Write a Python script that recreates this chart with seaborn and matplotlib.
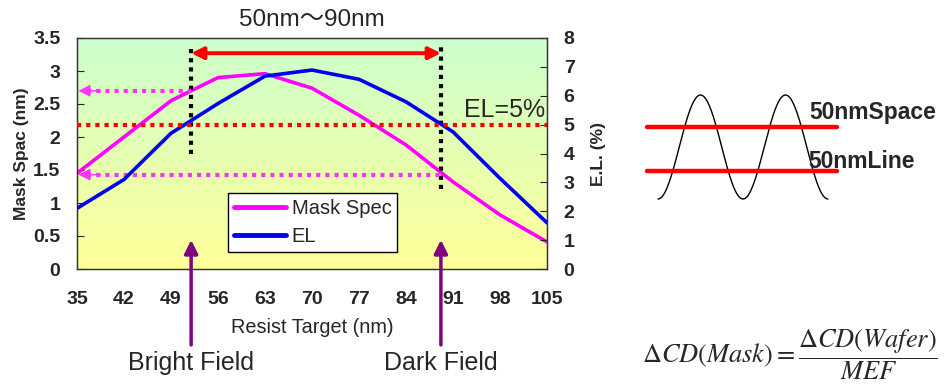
import numpy as np
import pandas as pd
import seaborn as sns
import matplotlib.pyplot as plt
from matplotlib.colors import LinearSegmentedColormap
from matplotlib.lines import Line2D

#%% data
resist_target = [35, 42, 49, 56, 63, 70, 77, 84, 91, 98, 105]
mask_spec = [1.45, 2.0, 2.55, 2.9, 2.96, 2.74, 2.33, 1.88, 1.32, 0.82, 0.41]
el_pct = [2.1, 3.1, 4.7, 5.73, 6.68, 6.89, 6.57, 5.79, 4.75, 3.14, 1.6]

x_ticks = list(range(35, 106, 7))
window = [52, 89.2]          # 50nm~90nm window edges
el_limit = 5                 # EL=5%
mask_at_edges = [2.70, 1.43]  # mask spec read at the window edges

df = pd.DataFrame({"target": resist_target, "mask": mask_spec, "el": el_pct})

sns.set_style("white")
plt.rcParams["font.family"] = ["Liberation Sans", "Noto Sans CJK JP", "DejaVu Sans"]

fig = plt.figure(figsize=(9.44, 3.90), dpi=100)
ax = fig.add_axes([77 / 944, 121 / 390, 470 / 944, 231 / 390])
ax2 = ax.twinx()

# green -> yellow background
bg = LinearSegmentedColormap.from_list("bg", ["#ffff99", "#ccffcc"])
ax.imshow(np.linspace(0, 1, 256).reshape(-1, 1), cmap=bg, aspect="auto",
          extent=[35, 105, 0, 3.5], origin="lower", zorder=0)

sns.lineplot(data=df, x="target", y="mask", color="#ff00ff", lw=2.6, ax=ax, zorder=3)
sns.lineplot(data=df, x="target", y="el", color="#0000ee", lw=2.6, ax=ax2, zorder=3)

ax.set_xlim(35, 105)
ax.set_ylim(0, 3.5)
ax2.set_ylim(0, 8)
ax.set_xticks(x_ticks)
ax.set_yticks(np.arange(0, 3.6, 0.5))
ax.set_yticklabels(["0", "0.5", "1", "1.5", "2", "2.5", "3", "3.5"])
ax2.set_yticks(range(0, 9))

for a in (ax, ax2):
    for s in a.spines.values():
        s.set_color("#333333")
        s.set_linewidth(0.9)
ax.tick_params(axis="x", direction="in", length=5, pad=16, labelsize=14)
ax.tick_params(axis="y", direction="in", length=5, pad=12, labelsize=14)
ax2.tick_params(axis="y", direction="in", length=5, pad=12, labelsize=14)
for lab in ax.get_xticklabels() + ax.get_yticklabels() + ax2.get_yticklabels():
    lab.set_fontweight("bold")

ax.set_xlabel("Resist Target (nm)", fontsize=14.3, labelpad=7)
ax.set_ylabel("Mask Spac (nm)", fontsize=12.5, fontweight="bold", labelpad=3)
ax2.set_ylabel("E.L. (%)", fontsize=12.5, fontweight="bold", labelpad=12)

# EL=5% line and window markers
dots = (0, (1, 1.2))
ax2.plot([35, 105], [el_limit, el_limit], color="#ff0000", lw=3, ls=dots, zorder=4)
ax2.text(104.7, el_limit + 0.08, "EL=5%", ha="right", va="bottom", fontsize=18)
ax.plot([window[0]] * 2, [1.74, 3.41], color="black", lw=3, ls=dots, zorder=4)
ax.plot([window[1]] * 2, [1.21, 3.41], color="black", lw=3, ls=dots, zorder=4)

ax.annotate("", xy=(window[0], 3.27), xytext=(window[1], 3.27),
            arrowprops=dict(arrowstyle="<|-|>", color="#ff0000", lw=2.8,
                            mutation_scale=18, shrinkA=0, shrinkB=0), zorder=5)

# dotted magenta arrows back to the mask axis
for xs, ym in zip(window, mask_at_edges):
    ax.plot([36.5, xs], [ym, ym], color="#ff33ff", lw=3, ls=dots, zorder=4)
    ax.annotate("", xy=(35.2, ym), xytext=(38.5, ym),
                arrowprops=dict(arrowstyle="-|>", color="#ff33ff", lw=1,
                                mutation_scale=18, shrinkA=0, shrinkB=0), zorder=4)

# bright / dark field arrows below the plot
for xs, name in zip(window, ["Bright Field", "Dark Field"]):
    ax.annotate("", xy=(xs, 0.44), xytext=(xs, -1.15),
                arrowprops=dict(arrowstyle="-|>", color="#800080", lw=2.5,
                                mutation_scale=20, shrinkA=0, shrinkB=0),
                annotation_clip=False, zorder=6)
    ax.text(xs, -1.42, name, ha="center", va="center", fontsize=18, clip_on=False)

ax.text(70, 3.78, "50nm～90nm", ha="center", va="center", fontsize=17.5,
        clip_on=False)

handles = [Line2D([], [], color="#ff00ff", lw=3.5), Line2D([], [], color="#0000ee", lw=3.5)]
leg = ax2.legend(handles, ["Mask Spec", "EL"], loc="lower left",
                 bbox_to_anchor=(0.3, 0.03), fontsize=14.5, frameon=True,
                 fancybox=False, handlelength=2.6, borderpad=0.3,
                 labelspacing=0.45, handletextpad=0.25)
leg.get_frame().set_edgecolor("black")
leg.get_frame().set_linewidth(1)
leg.get_frame().set_alpha(1)

#%% schematic on the right, in pixel coordinates
ov = fig.add_axes([0, 0, 1, 1], zorder=-1)
ov.set_xlim(0, 944)
ov.set_ylim(390, 0)
ov.axis("off")
wx = np.linspace(658, 828, 300)
ov.plot(wx, 147 + 52 * np.cos(2 * np.pi * (wx - 658) / 85), color="black", lw=1)
ov.plot([647, 837], [127, 127], color="#ff0000", lw=3.2)
ov.plot([647, 837], [171, 171], color="#ff0000", lw=3.2)
ov.text(809, 113, "50nmSpace", fontsize=16.5, fontweight="bold", va="center")
ov.text(808, 161, "50nmLine", fontsize=16.5, fontweight="bold", va="center")
ov.text(790, 355, r"$\Delta CD(Mask) = \dfrac{\Delta CD(Wafer)}{MEF}$",
        fontsize=19, ha="center", va="center", math_fontfamily="stix")

fig.savefig("out.png", dpi=100)
